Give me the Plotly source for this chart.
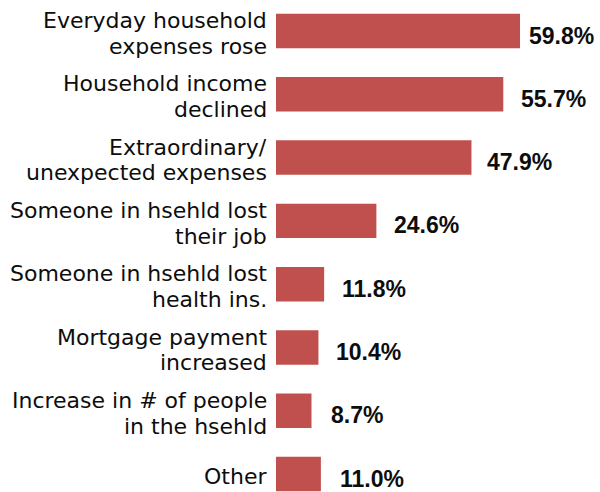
import plotly.graph_objects as go

# Reasons cited, top to bottom, and the share of respondents citing each (%)
categories = [
    "Everyday household<br>expenses rose",
    "Household income<br>declined",
    "Extraordinary/<br>unexpected expenses",
    "Someone in hsehld lost<br>their job",
    "Someone in hsehld lost<br>health ins.",
    "Mortgage payment<br>increased",
    "Increase in # of people<br>in the hsehld",
    "Other",
]
shares = [59.8, 55.7, 47.9, 24.6, 11.8, 10.4, 8.7, 11.0]
value_labels = [f"{v:.1f}%" for v in shares]

BAR_COLOR = "#C0504D"
TEXT_COLOR = "#0d0d0d"
CAT_FONT = dict(family="DejaVu Sans", size=22, color=TEXT_COLOR)
VAL_FONT = dict(family="Liberation Sans, Arial, sans-serif", size=23, color=TEXT_COLOR)
LINE_PX = 25.7      # baseline-to-baseline distance of wrapped category names
CAT_DROP = 2.5      # category names sit slightly below the bar centre
VAL_DROP = 4.5      # value labels likewise

# gap (px) between a bar's end and its value label; the longest bar's
# label is pulled in so it stays inside the canvas
label_gaps = [9, 18, 16, 18, 18, 18, 19, 19]

rows = list(range(len(categories)))

fig = go.Figure()
fig.add_trace(
    go.Bar(
        x=shares,
        y=rows,
        orientation="h",
        width=0.545,
        marker=dict(color=BAR_COLOR, line=dict(width=0)),
        hoverinfo="skip",
    )
)

annotations = []
for i, (cat, val, txt, gap) in enumerate(zip(categories, shares, value_labels, label_gaps)):
    # category name, one annotation per line, right-aligned against the bars
    lines = cat.split("<br>")
    n = len(lines)
    for j, line in enumerate(lines):
        offset = (j - (n - 1) / 2) * LINE_PX + CAT_DROP
        annotations.append(
            dict(
                xref="paper", yref="y", x=0, y=i,
                text=line, showarrow=False,
                xanchor="right", yanchor="middle", align="right",
                xshift=-7, yshift=-offset,
                font=CAT_FONT,
            )
        )
    # bold value label past the bar end
    annotations.append(
        dict(
            xref="x", yref="y", x=val, y=i,
            text=f"<b>{txt}</b>", showarrow=False,
            xanchor="left", yanchor="middle",
            xshift=gap - 2, yshift=-VAL_DROP,
            font=VAL_FONT,
        )
    )

fig.update_layout(
    width=600,
    height=492,
    margin=dict(l=276, r=0, t=0, b=0, pad=0),
    paper_bgcolor="white",
    plot_bgcolor="white",
    showlegend=False,
    xaxis=dict(range=[0, 79.4], visible=False, fixedrange=True),
    yaxis=dict(range=[7.284, -0.49], visible=False, fixedrange=True),
    annotations=annotations,
)

fig.write_html("out.html", config={"displayModeBar": False})
